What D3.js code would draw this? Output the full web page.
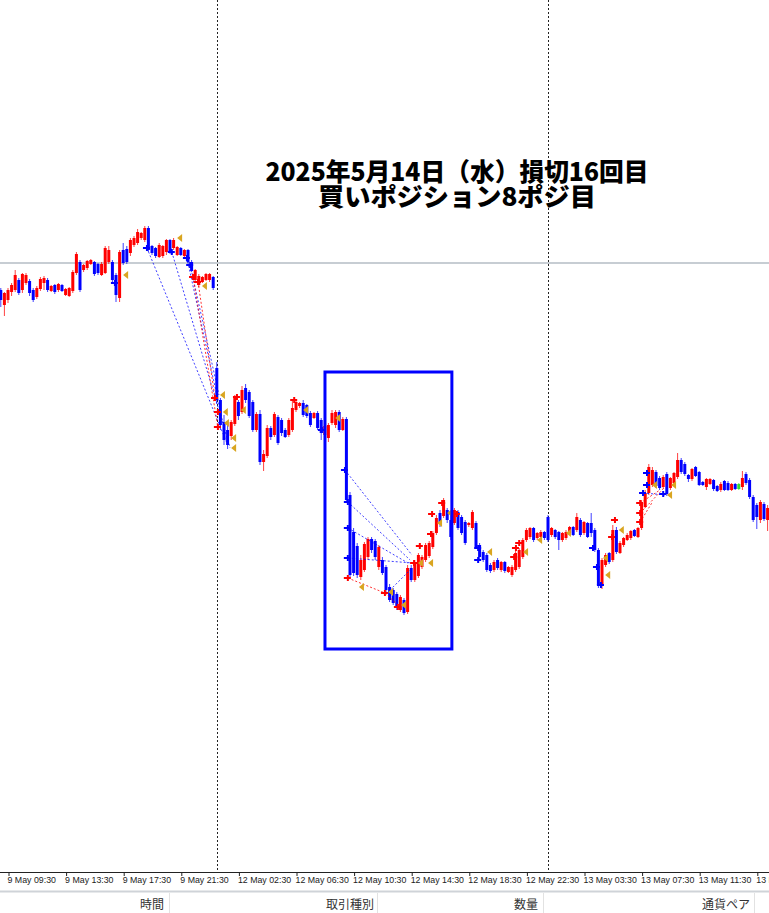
<!DOCTYPE html>
<html><head><meta charset="utf-8">
<script src="https://cdn.jsdelivr.net/npm/d3@7"></script>
<style>html,body{margin:0;padding:0;background:#fff;overflow:hidden}svg{display:block}</style>
</head><body>
<script>
// ---- DATA (EURUSD M15, prices in pips = price x 10000) ----
const openP = [
11235,11227.5,11230,11234,11235,11240,11235,11238.5,11239.5,11235,
11231.5,11235.5,11238.5,11240,11234.5,11237.5,11235,11237.5,11232.5,11232,
11234.5,11243.5,11249,11245,11246,11248,11249,11248,11242.5,11243.5,
11249,11249,11242.5,11231,11255,11255.5,11253.5,11257.5,11258.5,11261,
11260,11266,11257,11256,11251.5,11252,11254,11260,11256,11252.5,
11256,11252,11255,11249,11240,11237.5,11239,11240,11240,11241.5,
11196,11180,11169,11165,11162,11168,11179,11174,11186,11184,
11179,11165,11173,11149,11152,11166,11162.5,11171.5,11170,11165,
11162.5,11165,11175,11177,11178.5,11177.5,11173.5,11171,11173.5,11170,
11162.5,11161,11168.5,11167.5,11174,11165,11170.5,11132.5,11114,11107,
11091.5,11095,11101.5,11110.5,11109.5,11096.5,11100,11096.5,11086.5,11085,
11083,11075,11080,11074,11096,11090,11092,11096.5,11100,11102,
11106.5,11113.5,11123.5,11122,11125,11120,11118.5,11124,11121.5,11119,
11117.5,11116,11118.5,11107.5,11104,11102.5,11097.5,11095,11100,11095,
11099,11094,11092.5,11095,11096.5,11101.5,11110,11111.5,11116,11111,
11111.5,11114,11121.5,11112.5,11115,11114,11110,11111,11113.5,11116.5,
11115,11120,11113.5,11118.5,11118.5,11115,11105,11087,11097.5,11103.5,
11100,11115,11103.5,11107.5,11110,11111,11115,11111.5,11116,11126.5,
11133.5,11137.5,11144,11141,11136.5,11143,11136,11138.5,11141.5,11150,
11148,11142.5,11140.5,11146.5,11144,11139,11136.5,11138,11140,11137,
11135,11139.5,11138.5,11135,11138,11135.5,11136.5,11143,11140,11131.5,
11127.5,11120,11128,11120];
const highP = [
11236,11234,11236,11238.5,11245,11241,11243.5,11243.5,11240.5,11236,
11237,11241.5,11242,11241,11237.5,11238,11238.5,11238,11236,11236.5,
11245,11254,11250,11248,11250,11250.5,11249.5,11248.5,11249,11257,
11257,11250,11243.5,11255,11258.5,11257,11261,11262,11265.5,11264,
11267,11267,11257.5,11256.5,11258.5,11257.5,11260.5,11260.5,11261,11257,
11256.5,11255.5,11255.5,11250,11245.5,11243,11242,11243.5,11243.5,11242,
11199,11181,11172.5,11167.5,11170,11182.5,11180,11187,11188,11185,
11180,11174,11175,11155,11167.5,11167,11174,11172.5,11171,11166,
11171,11180,11180.5,11179,11180,11178,11174.5,11174,11174.5,11171,
11168,11168.5,11175,11175,11175,11171.5,11171.5,11134,11116,11108.5,
11102.5,11109,11111.5,11111.5,11110.5,11107.5,11101.5,11097.5,11088,11086,
11084,11082.5,11081,11097.5,11097.5,11100,11103.5,11102.5,11108.5,11109.5,
11114.5,11122.5,11125,11131,11126,11123.5,11126,11125,11122.5,11120,
11119,11125,11119.5,11108.5,11105,11103.5,11098.5,11100,11101,11099.5,
11099.5,11097,11097.5,11104.5,11106,11111,11116,11116.5,11116.5,11114,
11115,11114.5,11122.5,11116.5,11115.5,11114.5,11114,11115,11117,11117,
11123.5,11121,11119.5,11119,11123.5,11116,11106,11101,11103.5,11104,
11117.5,11116.5,11109.5,11111.5,11113.5,11115,11115.5,11116.5,11130,11135,
11148,11146.5,11145,11142,11142.5,11144,11141.5,11144,11153.5,11151,
11149,11143,11146,11147,11144.5,11139.5,11141,11141,11140.5,11137.5,
11139,11140,11139.5,11138.5,11138.5,11138.5,11144.5,11144,11141,11132.5,
11128.5,11130,11129,11127.5];
const lowP = [
11226.5,11222,11228.5,11232,11234,11232.5,11233.5,11237.5,11232,11229,
11230.5,11234.5,11235,11234,11234,11233,11234,11234,11232,11231.5,
11233.5,11242.5,11234,11244,11245,11247.5,11242,11242.5,11242,11243,
11248,11238,11229,11229,11247.5,11248,11252,11256.5,11257.5,11260,
11259,11254,11252.5,11251,11251,11251,11252.5,11253,11255,11252,
11252,11251.5,11248.5,11244,11239.5,11236.5,11238.5,11239.5,11239,11235,
11178,11165,11157.5,11155.5,11160,11167,11170,11173,11178.5,11171,
11164,11164,11147.5,11144.5,11151,11160,11161.5,11157.5,11162,11161,
11161.5,11164,11174,11176,11171.5,11171,11166.5,11170.5,11165,11160,
11160,11159,11167.5,11166,11164,11164.5,11129,11091,11092,11091,
11090,11094,11100,11103.5,11100,11095,11092.5,11084,11079,11077.5,
11075,11074,11072.5,11073,11089,11089,11091,11095.5,11099,11101,
11105.5,11112.5,11116.5,11121,11118.5,11110,11117.5,11115,11112.5,11107.5,
11116.5,11115,11105.5,11100.5,11099,11094,11093.5,11094,11095,11094,
11093.5,11093.5,11091.5,11094,11095.5,11100.5,11109,11110.5,11109,11110,
11111,11110,11109,11111.5,11110.5,11105,11109,11110,11112.5,11112,
11114,11111.5,11112.5,11111,11111.5,11104,11086,11085.5,11096.5,11098,
11099,11103,11103,11106.5,11109.5,11110,11111.5,11111,11115,11126,
11132.5,11136.5,11136,11135,11135.5,11132,11135,11137.5,11140.5,11143,
11142,11139,11139.5,11141.5,11137,11137,11135,11137.5,11134.5,11134,
11134,11134.5,11134.5,11134.5,11135,11135,11135,11137.5,11130.5,11119,
11115.5,11118.5,11119.5,11114.5];
const closeP = [
11230,11233.5,11235,11237.5,11242.5,11233.5,11243,11242.5,11233.5,11230,
11236,11240.5,11241,11235,11237,11234,11238,11234.5,11235.5,11236,
11244,11253,11235,11247.5,11249.5,11250,11243,11243.5,11248,11256,
11255,11240,11232.5,11254,11248.5,11249,11260,11261,11264,11263.5,
11266,11255,11253.5,11252,11257.5,11257,11260,11253.5,11260,11256.5,
11252.5,11255,11249,11244.5,11245,11242,11241.5,11243,11243,11236,
11180,11167.5,11160,11157.5,11169,11181,11172,11185,11180,11172,
11165,11173,11149,11153,11166,11161.5,11173,11158.5,11163.5,11161.5,
11170,11176,11179,11178.5,11172.5,11172,11167.5,11173.5,11166,11163.5,
11167,11167.5,11173.5,11174,11165,11170.5,11130,11092.5,11093.5,11092.5,
11100,11108,11110.5,11105,11101.5,11106.5,11093.5,11085,11080,11078.5,
11076,11081.5,11073.5,11096,11090,11098.5,11102.5,11101.5,11107.5,11108.5,
11113.5,11121,11118.5,11130,11120,11111.5,11125,11116,11113.5,11108.5,
11118.5,11124,11106.5,11101.5,11100,11095,11094.5,11099,11096,11099,
11094.5,11096.5,11096.5,11103.5,11105,11110,11115,11116,11110,11113.5,
11114,11111,11110,11116,11111.5,11110,11113.5,11114,11116.5,11112.5,
11121.5,11112.5,11119,11111.5,11113.5,11105,11087.5,11100,11102.5,11099,
11115,11104,11108.5,11111,11112.5,11114.5,11112,11116,11128.5,11133.5,
11146.5,11145,11137,11136,11141.5,11133,11141,11143.5,11150,11144,
11143,11140.5,11145.5,11142,11137.5,11137.5,11140.5,11140.5,11135.5,11134.5,
11138,11135,11135,11138,11135.5,11138,11141,11138.5,11131.5,11120,
11121.5,11129,11120.5,11126];
const highlightBar = 205;            // bar shown in green (selected)

const tickIdx    = [2,18,34,50,66,82,98,114,130,146,162,178,194,210];
const tickLabels = ["9 May 09:30","9 May 13:30","9 May 17:30","9 May 21:30","12 May 02:30","12 May 06:30",
  "12 May 10:30","12 May 14:30","12 May 18:30","12 May 22:30","13 May 03:30","13 May 07:30","13 May 11:30","13 May 15:30"];
const daySeparators = [60,152];
const levelLine = 11248.5;

// trades: [barIndex, pips]
const buyMarks = [[31.7,11238.5],[40.6,11256],[47.5,11254],[51.7,11251],[52.6,11247.5],[89.2,11165],[95.6,11145],[96.4,11129],[96.4,11116],[96.4,11101],[132.6,11106],[132.6,11100],[164.5,11106],[165.6,11096.5],[166.7,11087.5],[178.4,11133.5],[179.5,11143.5],[179.5,11137.5],[184,11133]];
const sellMarks = [[53.4,11241.5],[54.8,11239],[59.5,11181],[60.3,11174],[60.3,11166.5],[65.6,11181.5],[81.5,11180],[96.4,11091],[106.7,11083.5],[110.3,11076.5],[114.8,11098.5],[116.4,11107],[119.5,11113],[119.8,11123],[122.6,11128.5],[126.7,11123],[142.6,11101.5],[143.1,11106],[144,11108.5],[169.8,11111.5],[170.6,11120],[177.6,11128.5],[177.6,11123.5],[177.6,11119]];
const closeMarks = [[33.7,11242.5],[48.7,11261],[55.6,11237],[60.6,11182.5],[61.4,11174],[61.7,11168.5],[63.7,11161],[63.7,11156],[66.4,11175],[83.7,11175],[92.6,11171],[99.2,11086.5],[107.3,11084],[110.9,11077.5],[115.6,11098.5],[118.4,11098.5],[120.9,11118.5],[123.7,11123.5],[134.8,11104],[144.8,11104],[148.7,11110],[156.7,11113.5],[167,11101],[167.6,11092.5],[171.4,11115],[180.6,11137.5],[184.8,11132.5],[185.9,11137.5]];
const buyLines = [[40.6,11256,62.8,11158.5],[47.5,11254,63.7,11156],[51.7,11251,61.7,11168.5],[52.6,11247.5,60.6,11182.5],[95.6,11145,114.2,11102.5],[96.4,11129,113.7,11100],[96.4,11116,113.1,11098.5],[96.4,11101,114.5,11098.5],[107.3,11083.5,113.7,11095],[178.4,11133.5,184.8,11132.5]];
const sellLines = [[53.4,11241.5,60.3,11166.5],[54.8,11239,59.5,11181],[96.4,11091,106.7,11083.5],[106.7,11083.5,110.9,11076.5],[177.6,11128.5,183.1,11135],[177.6,11123.5,184.5,11136.5],[177.6,11119,181,11129]];
const highlightBox = {from:90.05, to:125.3, top:11194, bottom:11055.5};

const titleLines = ["2025年5月14日（水）損切16回目","買いポジション8ポジ目"];
const footerCols = ["時間","取引種別","数量","通貨ペア"];

// ---- LAYOUT ----
const W = 769, H = 913, axisY = 872;
const svg = d3.select("body").append("svg").attr("width",W).attr("height",H);
const x = d3.scaleLinear().domain([0,213]).range([0.8,767.6]);
const y = d3.scaleLinear().domain([11380,10923.5]).range([0,913]);

const plot = svg.append("g");
plot.append("clipPath").attr("id","clipPlot").append("rect").attr("x",0).attr("y",0).attr("width",W).attr("height",axisY);
const g = plot.append("g").attr("clip-path","url(#clipPlot)");

// day separators
g.selectAll("line.sep").data(daySeparators).join("line")
  .attr("x1",d=>Math.round(x(d))+0.5).attr("x2",d=>Math.round(x(d))+0.5)
  .attr("y1",0).attr("y2",axisY)
  .attr("stroke","#222").attr("stroke-width",1).attr("stroke-dasharray","2,2");

// level line
g.append("line").attr("x1",0).attr("x2",W).attr("y1",y(levelLine)).attr("y2",y(levelLine))
  .attr("stroke","#b4bcc4").attr("stroke-width",1.6);

// candles
const bars = d3.range(openP.length);
const col = i => i===highlightBar ? "#33dd33" : (closeP[i] >= openP[i] ? "#ff0000" : "#0000ff");
g.selectAll("line.wick").data(bars).join("line")
  .attr("x1",i=>x(i)).attr("x2",i=>x(i)).attr("y1",i=>y(highP[i])).attr("y2",i=>y(lowP[i]))
  .attr("stroke",col).attr("stroke-width",1).attr("stroke-opacity",0.75);
g.selectAll("rect.body").data(bars).join("rect")
  .attr("x",i=>x(i)-1.5).attr("width",3)
  .attr("y",i=>y(Math.max(openP[i],closeP[i])))
  .attr("height",i=>Math.max(1,Math.abs(y(openP[i])-y(closeP[i]))))
  .attr("fill",col);

// trade lines
g.selectAll("line.bl").data(buyLines).join("line")
  .attr("x1",d=>x(d[0])).attr("y1",d=>y(d[1])).attr("x2",d=>x(d[2])).attr("y2",d=>y(d[3]))
  .attr("stroke","#0000ff").attr("stroke-opacity",0.75).attr("stroke-width",1).attr("stroke-dasharray","2,2");
g.selectAll("line.sl").data(sellLines).join("line")
  .attr("x1",d=>x(d[0])).attr("y1",d=>y(d[1])).attr("x2",d=>x(d[2])).attr("y2",d=>y(d[3]))
  .attr("stroke","#ff0000").attr("stroke-opacity",0.8).attr("stroke-width",1).attr("stroke-dasharray","2,2");

// markers
const plus = "M-4,0H3M0,-3V3";
g.selectAll("path.buy").data(buyMarks).join("path")
  .attr("d",plus).attr("transform",d=>`translate(${x(d[0])},${y(d[1])})`)
  .attr("stroke","#0000ff").attr("stroke-width",2).attr("fill","none");
g.selectAll("path.sell").data(sellMarks).join("path")
  .attr("d",plus).attr("transform",d=>`translate(${x(d[0])},${y(d[1])})`)
  .attr("stroke","#ff0000").attr("stroke-width",2).attr("fill","none");
g.selectAll("path.close").data(closeMarks).join("path")
  .attr("d","M3,-4L-2,0L3,4Z").attr("transform",d=>`translate(${x(d[0])+3},${y(d[1])})`)
  .attr("fill","#d9a520");

// highlight box
g.append("rect")
  .attr("x",x(highlightBox.from)).attr("y",y(highlightBox.top))
  .attr("width",x(highlightBox.to)-x(highlightBox.from))
  .attr("height",y(highlightBox.bottom)-y(highlightBox.top))
  .attr("fill","none").attr("stroke","#0000ff").attr("stroke-width",3);

// title (slightly tall glyphs, like the original bitmap gothic)
const tl = [383, 278], sy = 1.15;
svg.selectAll("text.title").data(titleLines).join("text")
  .attr("transform",`scale(1,${sy})`)
  .attr("x",457).attr("y",(d,i)=>(181+i*25)/sy)
  .attr("text-anchor","middle")
  .attr("textLength",(d,i)=>tl[i]).attr("lengthAdjust","spacingAndGlyphs")
  .style("font-family","'Noto Sans CJK JP'").style("font-weight",900).style("font-size","22px")
  .attr("fill","#000").text(d=>d);

// axis
svg.append("line").attr("x1",0).attr("x2",W).attr("y1",axisY+0.5).attr("y2",axisY+0.5).attr("stroke","#222");
const ax = svg.append("g").attr("transform",`translate(0,${axisY})`)
  .call(d3.axisBottom(x).tickValues(tickIdx).tickFormat((d,i)=>tickLabels[i]).tickSize(4).tickSizeOuter(0));
ax.select(".domain").remove();
ax.selectAll(".tick line").attr("stroke","#222").attr("transform","translate(0.5,0)");
ax.selectAll(".tick text").attr("x",-1).attr("y",5).attr("dy","0.71em")
  .style("text-anchor","start").style("font-family","'Liberation Sans', Arial").style("font-size","8.8px").attr("fill","#222");

// footer header row
const fy = 889;
svg.append("rect").attr("x",0).attr("y",fy).attr("width",W).attr("height",H-fy).attr("fill","#ffffff");
svg.append("line").attr("x1",0).attr("x2",W).attr("y1",fy+2.5).attr("y2",fy+2.5).attr("stroke","#cfd3d8").attr("stroke-width",2);
const colRight = [164, 374, 538, 750], colDiv = [169.5, 377.5, 543.5, 754.5];
svg.selectAll("line.cdiv").data(colDiv).join("line")
  .attr("x1",d=>d).attr("x2",d=>d).attr("y1",fy+4).attr("y2",H).attr("stroke","#e2e2e2");
svg.selectAll("text.ch").data(footerCols).join("text")
  .attr("x",(d,i)=>colRight[i]).attr("y",909).attr("text-anchor","end")
  .style("font-family","'Noto Sans CJK JP'").style("font-size","12px").attr("fill","#333").text(d=>d);
</script>
</body></html>
